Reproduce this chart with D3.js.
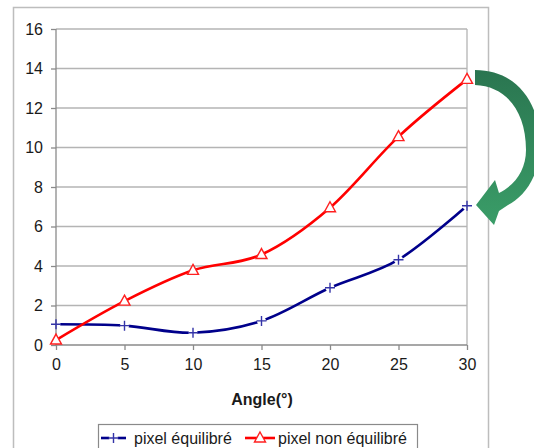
<!DOCTYPE html>
<html><head><meta charset="utf-8">
<script src="https://cdn.jsdelivr.net/npm/d3@7"></script>
<style>body{margin:0;background:#fff}svg{display:block}text{font-family:"Liberation Sans",Arial,sans-serif}</style>
</head><body><svg id="c" width="534" height="448"></svg>
<script>
const angles = [0, 5, 10, 15, 20, 25, 30];
const pixelEquilibre = [1.05, 0.98, 0.62, 1.22, 2.9, 4.32, 7.05];
const pixelNonEquilibre = [0.25, 2.22, 3.78, 4.58, 6.95, 10.55, 13.45];
const xTicks = [0, 5, 10, 15, 20, 25, 30];
const yTicks = [0, 2, 4, 6, 8, 10, 12, 14, 16];
const seriesNames = ["pixel équilibré", "pixel non équilibré"];
const xTitle = "Angle(°)";

const svg = d3.select("#c");
const x = d3.scaleLinear().domain([0, 30]).range([56, 467]);
const y = d3.scaleLinear().domain([0, 16]).range([345, 29]);

// outer frame
svg.append("rect").attr("x", 13.5).attr("y", 7.5).attr("width", 475).attr("height", 460)
  .attr("fill", "#fff").attr("stroke", "#bdbdbd").attr("stroke-width", 1.5);

// gridlines
svg.append("g").selectAll("line").data(yTicks.filter(d => d > 0)).join("line")
  .attr("x1", x(0)).attr("x2", x(30)).attr("y1", d => y(d)).attr("y2", d => y(d))
  .attr("stroke", "#b4b4b4").attr("stroke-width", 1.3);
// right border of plot
svg.append("line").attr("x1", x(30)).attr("x2", x(30)).attr("y1", y(16)).attr("y2", y(0))
  .attr("stroke", "#b4b4b4").attr("stroke-width", 1.3);

// axes
const yAxis = d3.axisLeft(y).tickValues(yTicks).tickSize(5).tickPadding(8);
const xAxis = d3.axisBottom(x).tickValues(xTicks).tickSize(5).tickPadding(9);
const gy = svg.append("g").attr("transform", `translate(${x(0)},0)`).call(yAxis);
const gx = svg.append("g").attr("transform", `translate(0,${y(0)})`).call(xAxis);
[gx, gy].forEach(g => {
  g.select(".domain").attr("stroke", "#8a8a8a").attr("stroke-width", 1.3);
  g.selectAll(".tick line").attr("stroke", "#8a8a8a").attr("stroke-width", 1.3);
  g.selectAll("text").attr("font-size", 16).attr("fill", "#1a1a1a")
    .attr("font-family", '"Liberation Sans",Arial,sans-serif');
});
gx.select(".domain").attr("d", `M${x(0)},0H${x(30)}`);
gy.select(".domain").attr("d", `M0,${y(0)}V${y(16)}`);

svg.append("text").attr("x", 262).attr("y", 405).attr("text-anchor", "middle")
  .attr("font-size", 16).attr("font-weight", "bold").attr("fill", "#1a1a1a").text(xTitle);

const line = d3.line().x(d => x(d[0])).y(d => y(d[1])).curve(d3.curveCardinal.tension(0));
const blueData = angles.map((a, i) => [a, pixelEquilibre[i]]);
const redData = angles.map((a, i) => [a, pixelNonEquilibre[i]]);

// mask for gaps around + markers
const defs = svg.append("defs");
const mask = defs.append("mask").attr("id", "gap").attr("maskUnits", "userSpaceOnUse")
  .attr("x", 0).attr("y", 0).attr("width", 534).attr("height", 448);
mask.append("rect").attr("width", 534).attr("height", 448).attr("fill", "#fff");
mask.selectAll("circle").data(blueData).join("circle")
  .attr("cx", d => x(d[0])).attr("cy", d => y(d[1])).attr("r", 4.5).attr("fill", "#000");
const lm = defs.append("mask").attr("id", "lgap").attr("maskUnits", "userSpaceOnUse")
  .attr("x", 0).attr("y", 0).attr("width", 534).attr("height", 448);
lm.append("rect").attr("width", 534).attr("height", 448).attr("fill", "#fff");
lm.append("circle").attr("cx", 113.5).attr("cy", 438).attr("r", 4.5).attr("fill", "#000");

svg.append("path").datum(blueData).attr("d", line).attr("fill", "none")
  .attr("stroke", "#00008b").attr("stroke-width", 2.6).attr("mask", "url(#gap)");
svg.append("path").datum(redData).attr("d", line).attr("fill", "none")
  .attr("stroke", "#ff0000").attr("stroke-width", 2.6);

const plus = (g, cx, cy) => g.append("path")
  .attr("d", `M${cx - 5},${cy}H${cx + 5}M${cx},${cy - 5}V${cy + 5}`)
  .attr("stroke", "#3434a8").attr("stroke-width", 1.4).attr("fill", "none");
const tri = (g, cx, cy) => g.append("path")
  .attr("d", `M${cx},${cy - 6}L${cx + 5.5},${cy + 4}L${cx - 5.5},${cy + 4}Z`)
  .attr("stroke", "#ff2020").attr("stroke-width", 1.4).attr("fill", "#fff");

const mg = svg.append("g");
blueData.forEach(d => plus(mg, x(d[0]), y(d[1])));
redData.forEach(d => tri(mg, x(d[0]), y(d[1])));

// legend
const lg = svg.append("g");
lg.append("rect").attr("x", 98.5).attr("y", 424.5).attr("width", 319).attr("height", 30)
  .attr("fill", "#fff").attr("stroke", "#8a8a8a").attr("stroke-width", 1.2);
lg.append("line").attr("x1", 101).attr("x2", 126).attr("y1", 438).attr("y2", 438)
  .attr("stroke", "#00008b").attr("stroke-width", 2.6).attr("mask", "url(#lgap)");
plus(lg, 113.5, 438);
lg.append("text").attr("x", 134).attr("y", 444).attr("font-size", 16).attr("fill", "#1a1a1a").text(seriesNames[0]);
lg.append("line").attr("x1", 245).attr("x2", 275).attr("y1", 438).attr("y2", 438)
  .attr("stroke", "#ff0000").attr("stroke-width", 2.6);
tri(lg, 260, 438);
lg.append("text").attr("x", 278).attr("y", 444).attr("font-size", 16).attr("fill", "#1a1a1a").text(seriesNames[1]);

// green curved arrow
const grad = defs.append("linearGradient").attr("id", "ag").attr("x1", 0).attr("y1", 0).attr("x2", 0).attr("y2", 1);
grad.append("stop").attr("offset", "0%").attr("stop-color", "#2a7550");
grad.append("stop").attr("offset", "100%").attr("stop-color", "#3a9d68");
svg.append("path")
  .attr("d", "M475,70 C518,70 542,105 540,150 C538,180 522,198 508,205 L499,211 L494,225 L476,205 L495,180 L499,193 C515,185 526,170 526,150 C526,110 505,86 475,85 Z")
  .attr("fill", "url(#ag)");
</script></body></html>
